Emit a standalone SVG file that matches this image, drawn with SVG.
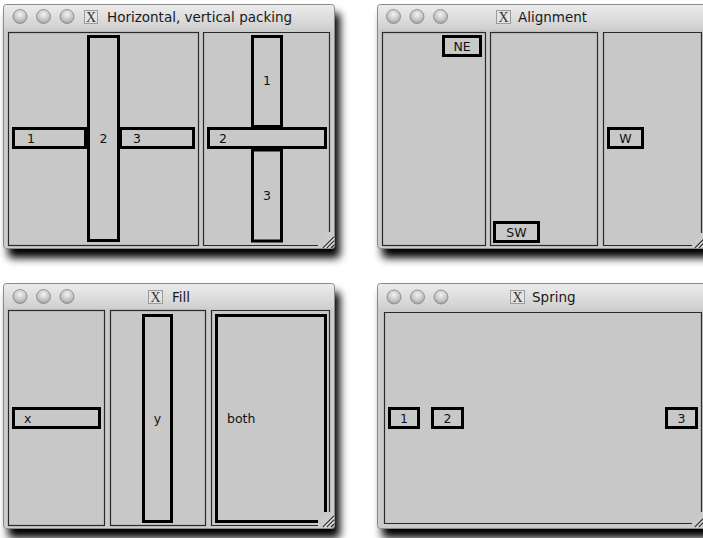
<svg xmlns="http://www.w3.org/2000/svg" width="703" height="538" viewBox="0 0 703 538">
<defs>
<filter id="shadow" x="-10%" y="-10%" width="125%" height="130%">
<feGaussianBlur in="SourceAlpha" stdDeviation="4.5"/>
<feOffset dx="5" dy="9" result="b"/>
<feComponentTransfer><feFuncA type="linear" slope="1"/></feComponentTransfer>
<feMerge><feMergeNode/><feMergeNode in="SourceGraphic"/></feMerge>
</filter>
<linearGradient id="tb" x1="0" y1="0" x2="0" y2="1">
<stop offset="0" stop-color="#ececec"/>
<stop offset="1" stop-color="#d0d0d0"/>
</linearGradient>
<radialGradient id="btn" cx="0.5" cy="0.35" r="0.65">
<stop offset="0" stop-color="#f2f2f2"/>
<stop offset="0.6" stop-color="#c8c8c8"/>
<stop offset="1" stop-color="#a0a0a0"/>
</radialGradient>
<g id="lights" fill="url(#btn)" stroke="#858585" stroke-width="0.8">
<circle cx="0" cy="0" r="7"/>
<circle cx="23.5" cy="0" r="7"/>
<circle cx="47" cy="0" r="7"/>
</g>
<g id="grip" stroke-width="1.3">
<line x1="-11" y1="0" x2="0" y2="-11" stroke="#333"/>
<line x1="-10" y1="0.5" x2="0.5" y2="-10" stroke="#fff" stroke-width="0.8"/>
<line x1="-7" y1="0" x2="0" y2="-7" stroke="#333"/>
<line x1="-6" y1="0.5" x2="0.5" y2="-6" stroke="#fff" stroke-width="0.8"/>
<line x1="-3" y1="0" x2="0" y2="-3" stroke="#333"/>
</g>
</defs>
<style>
.win{fill:#cbcbcb;stroke:#8a8a8a;stroke-width:1}
.title{fill:url(#tb)}
.panel{fill:#c8c8c8;stroke:#2a2a2a;stroke-width:1.2}
.box{fill:#c8c8c8;stroke:#000;stroke-width:3}
.lbl{font-family:"DejaVu Sans",sans-serif;font-size:12.5px;fill:#111}
.ttl{font-family:"DejaVu Sans",sans-serif;font-size:13.5px;fill:#1a1a1a}
.xicon{fill:#e4e4e4;stroke:#9a9a9a;stroke-width:1}
.xt{font-family:"Liberation Serif",serif;font-size:14px;fill:#333}
</style>
<rect width="703" height="538" fill="#fff"/>

<!-- Window 1 -->
<g id="win-packing">
<g filter="url(#shadow)">
<rect class="win" x="3.5" y="4.5" width="331" height="244" rx="3"/>
</g>
<path class="title" d="M4 8 Q4 5 7 5 H331 Q334 5 334 8 V29 H4 Z"/>
<use href="#lights" x="20" y="16.5"/>
<rect class="xicon" x="84.5" y="10.5" width="13" height="13"/>
<text class="xt" x="91" y="22" text-anchor="middle">X</text>
<text class="ttl" x="107" y="22">Horizontal, vertical packing</text>
<rect class="panel" x="8.5" y="32.5" width="190" height="213"/>
<path class="panel" d="M318 245.5 H203.5 V32.5 H329.5 V232"/>
<use href="#grip" x="334" y="248"/>
<g id="p1-1"><rect class="box" x="13.5" y="128.5" width="72" height="19"/><text class="lbl" x="27" y="142.5">1</text></g>
<g id="p1-3"><rect class="box" x="120.5" y="128.5" width="73" height="19"/><text class="lbl" x="133" y="142.5">3</text></g>
<g id="p1-2"><rect class="box" x="88.5" y="36.5" width="30" height="204"/><text class="lbl" x="103.5" y="142.5" text-anchor="middle">2</text></g>
<g id="p2-1"><rect class="box" x="252.5" y="36.5" width="29" height="90"/><text class="lbl" x="267" y="85" text-anchor="middle">1</text></g>
<g id="p2-3"><rect class="box" x="252.5" y="150" width="29" height="91"/><text class="lbl" x="267" y="200" text-anchor="middle">3</text></g>
<g id="p2-2"><rect class="box" x="208.5" y="128.5" width="117" height="19"/><text class="lbl" x="219" y="142.5">2</text></g>
</g>

<!-- Window 2 -->
<g id="win-alignment">
<g filter="url(#shadow)">
<rect class="win" x="377.5" y="4.5" width="340" height="244" rx="3"/>
</g>
<path class="title" d="M378 8 Q378 5 381 5 H717 V29 H378 Z"/>
<use href="#lights" x="393.5" y="16.5"/>
<rect class="xicon" x="496.5" y="10.5" width="14" height="13"/>
<text class="xt" x="503.5" y="22" text-anchor="middle">X</text>
<text class="ttl" x="518" y="22">Alignment</text>
<rect class="panel" x="382.5" y="32.5" width="103" height="213"/>
<rect class="panel" x="490.5" y="32.5" width="107" height="213"/>
<path class="panel" d="M692 245.5 H603.5 V32.5 H701.5 V233"/>
<use href="#grip" x="706" y="248"/>
<g id="ne"><rect class="box" x="443.5" y="36.5" width="37" height="19"/><text class="lbl" x="462" y="51" text-anchor="middle">NE</text></g>
<g id="sw"><rect class="box" x="494.5" y="222.5" width="44" height="19"/><text class="lbl" x="516.5" y="237" text-anchor="middle">SW</text></g>
<g id="w"><rect class="box" x="608.5" y="128.5" width="34" height="19"/><text class="lbl" x="625.5" y="142.5" text-anchor="middle">W</text></g>
</g>

<!-- Window 3 -->
<g id="win-fill">
<g filter="url(#shadow)">
<rect class="win" x="3.5" y="283.5" width="331" height="245" rx="3"/>
</g>
<path class="title" d="M4 287 Q4 284 7 284 H331 Q334 284 334 287 V308 H4 Z"/>
<use href="#lights" x="20" y="296.5"/>
<rect class="xicon" x="148.5" y="290.5" width="14" height="13"/>
<text class="xt" x="155.5" y="302" text-anchor="middle">X</text>
<text class="ttl" x="172" y="302">Fill</text>
<rect class="panel" x="8.5" y="310.5" width="96" height="215"/>
<rect class="panel" x="110.5" y="310.5" width="95" height="215"/>
<path class="panel" d="M318 525.5 H211.5 V310.5 H329.5 V512"/>
<use href="#grip" x="334" y="527"/>
<g id="fx"><rect class="box" x="13.5" y="408.5" width="86" height="19"/><text class="lbl" x="24" y="422.5">x</text></g>
<g id="fy"><rect class="box" x="143.5" y="315.5" width="28" height="206"/><text class="lbl" x="157.5" y="422.5" text-anchor="middle">y</text></g>
<g id="fboth"><path fill="#c8c8c8" d="M216.5 315.5 H325.5 V513 L318 521.5 H216.5 Z"/><path fill="none" stroke="#000" stroke-width="3" d="M318 521.5 H216.5 V315.5 H325.5 V512"/><text class="lbl" x="227" y="422.5">both</text></g>
</g>

<!-- Window 4 -->
<g id="win-spring">
<g filter="url(#shadow)">
<rect class="win" x="377.5" y="283.5" width="340" height="245" rx="3"/>
</g>
<path class="title" d="M378 287 Q378 284 381 284 H717 V309 H378 Z"/>
<use href="#lights" x="394" y="297"/>
<rect class="xicon" x="510.5" y="290.5" width="14" height="13"/>
<text class="xt" x="517.5" y="302" text-anchor="middle">X</text>
<text class="ttl" x="532" y="302">Spring</text>
<path class="panel" d="M692 523.5 H384.5 V312.5 H701.5 V512"/>
<use href="#grip" x="706" y="527"/>
<g id="s1"><rect class="box" x="389.5" y="408.5" width="29" height="19"/><text class="lbl" x="404" y="422.5" text-anchor="middle">1</text></g>
<g id="s2"><rect class="box" x="432.5" y="408.5" width="30" height="19"/><text class="lbl" x="447.5" y="422.5" text-anchor="middle">2</text></g>
<g id="s3"><rect class="box" x="666.5" y="408.5" width="30" height="19"/><text class="lbl" x="681.5" y="422.5" text-anchor="middle">3</text></g>
</g>
</svg>
